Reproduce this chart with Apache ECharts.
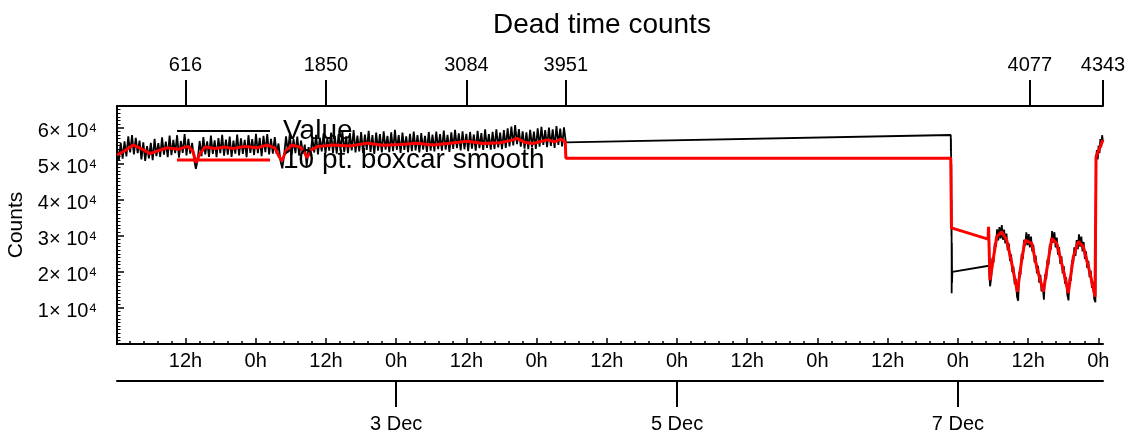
<!DOCTYPE html>
<html><head><meta charset="utf-8">
<script src="https://cdn.jsdelivr.net/npm/echarts@6/dist/echarts.min.js"></script>
<style>html,body{margin:0;padding:0;background:#fff}#c{width:1137px;height:441px}</style>
</head><body><div id="c"></div>
<script>
// ---------- data (times in hours since 1 Dec 00:00, counts in thousands) ----------
const titleText = 'Dead time counts';
const seriesNames = ['Value', '10 pt. boxcar smooth'];
const timeMin = 0.29, timeMax = 168.8;

// first block of raw samples, evenly spaced in time
const seg1Start = 0.29, seg1End = 77.0;
const seg1Values = [
54.6,50.9,55.8,51.4,56.2,52.0,57.6,53.1,57.9,52.6,
57.2,52.9,56.4,51.2,55.9,50.8,54.9,51.5,55.8,51.0,
56.9,52.1,55.7,51.9,57.3,52.5,56.1,51.8,57.8,52.4,
56.6,52.9,57.9,51.7,56.3,53.0,58.2,52.3,56.9,52.8,
55.8,51.3,48.6,51.2,56.3,52.1,57.4,52.6,56.2,51.9,
57.8,52.7,56.5,51.8,57.1,52.9,58.0,52.2,56.7,52.5,
57.5,51.9,56.4,52.8,58.1,52.3,57.0,52.7,56.6,51.8,
57.9,53.0,56.8,52.4,58.3,52.9,57.2,52.1,57.7,53.2,
58.2,52.6,56.9,52.8,57.4,52.7,55.6,50.9,48.7,52.4,
57.6,53.1,58.2,52.5,56.8,52.9,57.5,52.2,56.4,52.8,
55.3,49.4,54.6,52.2,57.3,53.1,58.0,52.6,57.2,53.4,
58.4,52.9,57.1,53.6,58.6,53.0,57.7,52.8,58.3,53.5,
59.0,53.2,57.6,52.9,58.5,53.7,59.3,53.1,57.8,53.4,
58.8,53.0,58.1,53.8,59.1,53.3,57.9,52.7,58.6,53.6,
58.2,53.1,59.0,53.9,57.7,53.2,58.7,53.5,59.4,53.8,
57.9,53.0,58.6,53.8,57.6,53.2,58.3,53.5,58.9,53.7,
57.9,53.1,58.5,53.9,57.7,53.3,58.8,53.6,58.1,53.4,
58.9,54.0,58.2,53.6,59.2,53.9,58.0,53.3,58.7,54.1,
59.4,54.3,58.4,53.7,59.0,54.0,58.3,53.5,58.8,54.2,
58.1,53.6,59.1,54.3,58.5,53.8,59.5,54.4,58.2,53.9,
58.8,54.1,59.5,54.5,58.6,54.0,59.3,54.4,59.8,54.8,
60.3,55.1,60.7,55.4,59.6,54.7,59.0,54.2,58.7,54.0,
59.4,54.5,58.9,54.1,59.8,54.7,60.2,55.2,59.3,54.6,
60.0,54.9,59.5,54.4,60.4,55.2,59.7,54.8,60.1,55.9
];
// short burst of samples after the data gap
const gapSamples = [[142.78,57.96],[142.80,53.5],[142.82,57.0],[142.85,44.0],[142.88,50.0],[142.90,30.0],[142.92,40.0],[142.94,14.1],[142.97,28.0],[143.00,17.0],[143.05,20.0]];
// second block of raw samples, evenly spaced in time
const seg2Start = 149.3, seg2End = 167.5;
const seg2Values = [
21.7,16.0,18.4,23.9,22.6,28.0,26.9,31.8,28.7,32.4,
29.3,33.0,28.9,31.7,27.9,30.6,26.0,27.9,23.0,24.9,
19.9,21.5,16.6,18.1,13.2,12.0,20.1,19.2,25.0,23.5,
28.9,27.2,31.0,27.4,30.5,26.8,29.8,25.7,27.5,22.6,
24.5,19.6,21.7,17.0,19.2,14.6,16.4,12.3,19.3,18.0,
23.4,22.0,27.6,26.2,31.3,28.1,31.0,26.8,29.5,24.8,
26.9,22.2,24.3,19.6,21.6,16.7,18.5,13.7,12.1,18.4,
17.5,23.2,22.3,26.8,24.4,28.8,26.3,30.4,27.0,29.8,
25.7,28.3,23.6,25.7,21.1,23.1,18.5,20.4,15.6,17.3,
12.5,11.6
];
const endSamples = [[167.52,14.5],[167.58,40.0],[167.62,51.5],[167.75,53.8],[167.9,51.2],[168.05,55.0],[168.2,52.9],[168.35,56.8],[168.5,54.6],[168.65,57.9],[168.8,56.0]];

// 10 pt. boxcar smooth
const smoothPairs = [
[0.29,52.4],[1.66,53.6],[3.02,55.2],[4.39,54.2],[5.93,52.8],[7.30,53.6],[8.84,54.4],[10.72,54.0],[12.42,54.8],[13.28,53.5],
[13.79,50.3],[14.48,52.8],[15.33,54.6],[17.04,54.2],[18.75,54.6],[20.12,54.2],[22.17,54.8],[24.22,54.4],[25.93,55.2],[27.29,54.3],
[27.98,52.0],[28.49,50.8],[29.17,53.6],[30.20,55.2],[31.57,54.6],[32.25,53.5],[32.76,51.6],[33.45,53.8],[34.64,54.8],[37.21,55.2],
[40.11,54.9],[43.02,55.7],[45.75,55.1],[48.66,55.3],[51.56,55.7],[54.30,55.2],[57.20,55.7],[60.11,56.2],[62.84,55.6],[65.75,55.8],
[67.46,56.4],[68.65,57.0],[70.02,55.9],[71.39,55.6],[73.78,56.6],[75.15,56.1],[76.17,56.8],[76.9,56.1],[77.0,51.5],[142.78,51.5],
[142.9,32.2],[149.15,29.1],[149.24,32.5],[149.49,17.7],[150.64,29.8],[151.49,31.1],[152.35,28.8],[153.20,22.4],[154.16,14.5],[154.91,23.3],
[155.48,28.8],[155.77,29.3],[156.62,27.9],[157.48,21.4],[158.60,14.5],[159.46,23.3],[160.04,29.3],[160.31,29.8],[160.89,27.9],[162.02,20.5],
[162.88,14.1],[163.73,24.2],[164.59,28.4],[164.88,28.8],[165.44,27.0],[166.59,19.6],[167.44,13.1],[167.61,51.9],[168.8,56.6]
];

// axis ticks
const hourTicks = [12,24,36,48,60,72,84,96,108,120,132,144,156,168];
const hourLabels = ['12h','0h','12h','0h','12h','0h','12h','0h','12h','0h','12h','0h','12h','0h'];
const dateTicks = [48,96,144];
const dateLabels = ['3 Dec','5 Dec','7 Dec'];
const sampleTickTimes = [12,36,60,77.0,156.3,168.8];
const sampleTickLabels = ['616','1850','3084','3951','4077','4343'];
const yTicks = [10000,20000,30000,40000,50000,60000];
const yTickLabels = ['1× 10⁴','2× 10⁴','3× 10⁴','4× 10⁴','5× 10⁴','6× 10⁴'];
const yMin = 0, yMax = 66000;

// ---------- build ----------
const K = 1000;
const valueData = [];
seg1Values.forEach((v,i)=>valueData.push([seg1Start + i*(seg1End-seg1Start)/(seg1Values.length-1), v*K]));
gapSamples.forEach(p=>valueData.push([p[0], p[1]*K]));
seg2Values.forEach((v,i)=>valueData.push([seg2Start + i*(seg2End-seg2Start)/(seg2Values.length-1), v*K]));
endSamples.forEach(p=>valueData.push([p[0], p[1]*K]));
const smoothData = smoothPairs.map(p=>[p[0], p[1]*K]);

const minorHour = [];
for (let h = 2.4; h < timeMax; h += 2.4) { const r = Math.round(h*10)/10; if (Math.abs(r/12 - Math.round(r/12)) > 1e-6) minorHour.push(r); }
const minorY = [];
for (let v = 1000; v < yMax; v += 1000) if (v % 10000 !== 0) minorY.push(v);

const FONT = '"Liberation Sans", Arial, Helvetica, sans-serif';
const lab = (ticks, labels) => v => { for (let i=0;i<ticks.length;i++) if (Math.abs(ticks[i]-v) < 1e-6) return labels[i]; return ''; };
const axBase = {type:'value', min: timeMin, max: timeMax, splitLine:{show:false}};

const chart = echarts.init(document.getElementById('c'), null, {renderer:'canvas'});
chart.setOption({
  animation: false,
  backgroundColor: '#fff',
  textStyle: {fontFamily: FONT},
  title: {text: titleText, left: 488, top: 6, textStyle:{fontSize: 28, fontWeight:'normal', color:'#000', fontFamily: FONT}},
  grid: {left: 117, right: 34, top: 106, bottom: 97, containLabel: false, outerBoundsMode: 'none'},
  legend: {
    orient:'vertical', left: 177, top: 117, padding: 0, itemWidth: 93, itemHeight: 14, itemGap: 1,
    textStyle: {fontSize: 28, color:'#000', fontFamily: FONT, lineHeight: 28, padding:[0,0,0,8]},
    data: [
      {name: seriesNames[0], icon: 'path://M0 0H93V2H0Z', itemStyle:{color:'#000', borderWidth:0}},
      {name: seriesNames[1], icon: 'path://M0 0H93V3H0Z', itemStyle:{color:'#ff0000', borderWidth:0}}
    ]
  },
  xAxis: [
    Object.assign({}, axBase, {position:'bottom',
      axisLine:{show:true, onZero:false, lineStyle:{color:'#000', width:2}},
      axisTick:{show:true, inside:true, length:6, lineStyle:{color:'#000', width:1.5}, customValues: hourTicks},
      axisLabel:{show:true, customValues: hourTicks, formatter: lab(hourTicks, hourLabels), margin: 7, fontSize: 20, color:'#000', fontFamily: FONT}
    }),
    Object.assign({}, axBase, {position:'bottom', offset: 37,
      axisLine:{show:true, onZero:false, lineStyle:{color:'#000', width:2}},
      axisTick:{show:true, inside:false, length:26, lineStyle:{color:'#000', width:2}, customValues: dateTicks},
      axisLabel:{show:true, customValues: dateTicks, formatter: lab(dateTicks, dateLabels), margin: 33, fontSize: 20, color:'#000', fontFamily: FONT}
    }),
    Object.assign({}, axBase, {position:'top',
      axisLine:{show:true, onZero:false, lineStyle:{color:'#000', width:2}},
      axisTick:{show:true, inside:false, length:26, lineStyle:{color:'#000', width:2}, customValues: sampleTickTimes},
      axisLabel:{show:true, customValues: sampleTickTimes, formatter: lab(sampleTickTimes, sampleTickLabels), margin: 31, fontSize: 20, color:'#000', fontFamily: FONT}
    }),
    Object.assign({}, axBase, {position:'bottom',
      axisLine:{show:false, onZero:false},
      axisTick:{show:true, inside:true, length:3, lineStyle:{color:'#000', width:1.5}, customValues: minorHour},
      axisLabel:{show:false}
    })
  ],
  yAxis: [
    {type:'value', min: yMin, max: yMax, position:'left', splitLine:{show:false},
      name: 'Counts', nameLocation:'middle', nameGap: 85, nameTextStyle:{fontSize:21, color:'#000', fontFamily: FONT},
      axisLine:{show:true, onZero:false, lineStyle:{color:'#000', width:2}},
      axisTick:{show:true, inside:true, length:7, lineStyle:{color:'#000', width:1.5}, customValues: yTicks},
      axisLabel:{show:true, customValues: yTicks, margin: 20, color:'#000', fontSize: 20, fontFamily: FONT,
        verticalAlign: 'top', lineHeight: 8, formatter: lab(yTicks, yTickLabels)}
    },
    {type:'value', min: yMin, max: yMax, position:'left', splitLine:{show:false},
      axisLine:{show:false, onZero:false},
      axisTick:{show:true, inside:true, length:3.5, lineStyle:{color:'#000', width:1}, customValues: minorY},
      axisLabel:{show:false}
    }
  ],
  series: [
    {name: seriesNames[0], type:'line', data: valueData, xAxisIndex:0, yAxisIndex:0, symbol:'none', showSymbol:false,
      lineStyle:{color:'#000', width:1.8}, itemStyle:{color:'#000'}, z:2},
    {name: seriesNames[1], type:'line', data: smoothData, xAxisIndex:0, yAxisIndex:0, symbol:'none', showSymbol:false,
      lineStyle:{color:'#ff0000', width:3}, itemStyle:{color:'#ff0000'}, z:3}
  ]
});
</script></body></html>
